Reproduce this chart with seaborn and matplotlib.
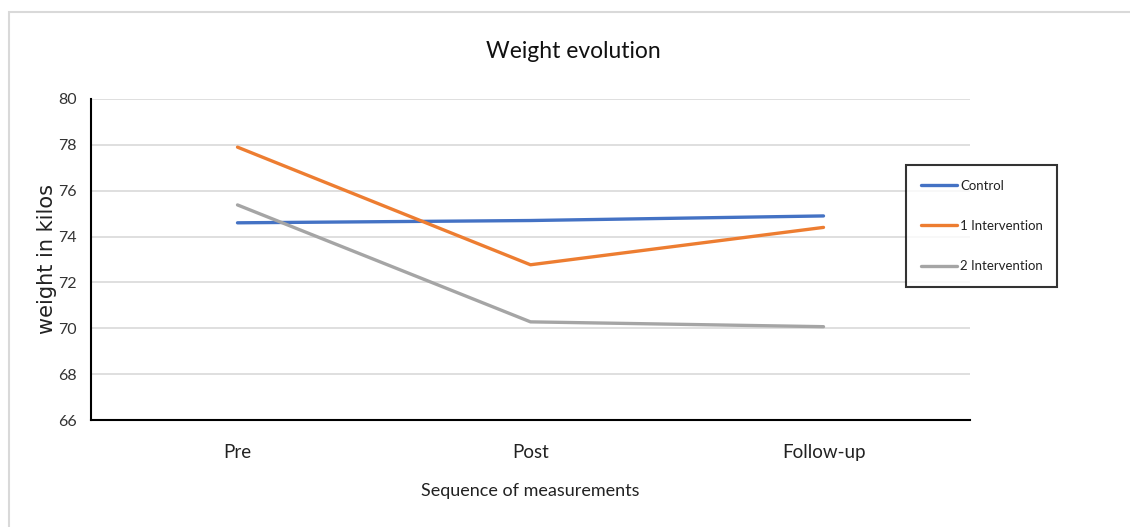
import matplotlib
matplotlib.use("Agg")
import matplotlib.pyplot as plt
import seaborn as sns
import pandas as pd
from matplotlib.patches import Rectangle

categories = ["Pre", "Post", "Follow-up"]
control = [74.6, 74.7, 74.9]
intervention1 = [77.9, 72.77, 74.4]
intervention2 = [75.38, 70.28, 70.07]
series_names = ["Control", "1 Intervention", "2 Intervention"]
y_ticks = [66, 68, 70, 72, 74, 76, 78, 80]

rows = []
for name, vals in zip(series_names, [control, intervention1, intervention2]):
    for c, v in zip(categories, vals):
        rows.append({"x": c, "y": v, "series": name})
df = pd.DataFrame(rows)

sns.set_theme(style="white")
plt.rcParams['font.family'] = ['Lato', 'DejaVu Sans']

fig = plt.figure(figsize=(11.3, 5.27), dpi=100)
ax = fig.add_axes([91/1130, 1-420/527, (970-91)/1130, (420-99)/527])

palette = {"Control": "#4472C4", "1 Intervention": "#ED7D31", "2 Intervention": "#A5A5A5"}
sns.lineplot(data=df, x="x", y="y", hue="series", palette=palette, sort=False,
             linewidth=2.4, ax=ax, legend=True)

ax.set_xlim(-0.5, 2.5)
ax.set_ylim(66, 80)
ax.set_yticks(y_ticks)
ax.set_yticklabels([str(t) for t in y_ticks], fontsize=11.5, color="#333333")
ax.set_xticks(range(len(categories)))
ax.set_xticklabels(categories, fontsize=13.5, color="#222222")
ax.tick_params(axis='x', pad=17, length=0)
ax.tick_params(axis='y', pad=10, length=0)
ax.grid(axis='y', color="#d9d9d9", linewidth=1.2)
ax.set_axisbelow(True)
for s in ["top", "right"]:
    ax.spines[s].set_visible(False)
for s in ["left", "bottom"]:
    ax.spines[s].set_color("black")
    ax.spines[s].set_linewidth(1.5)

ax.set_xlabel("Sequence of measurements", fontsize=13, color="#222222", labelpad=16)
ax.set_ylabel("weight in kilos", fontsize=15, color="#222222", labelpad=1,
              family=['DejaVu Sans'])

fig.text(573/1130, 1-51/527, "Weight evolution", ha="center", va="center",
         fontsize=16.5, color="#111111")

handles, labels = ax.get_legend_handles_labels()
leg = ax.legend(handles, labels, loc="upper left", bbox_to_anchor=(906/1130, 1-165/527),
                bbox_transform=fig.transFigure, frameon=True, fancybox=False,
                fontsize=9.5, labelspacing=2.15, handlelength=2.8, handletextpad=0.2,
                borderpad=1.1, borderaxespad=0)
leg.get_frame().set_edgecolor("black")
leg.get_frame().set_linewidth(1.5)
for t in leg.get_texts():
    t.set_color("#222222")

fig.patches.append(Rectangle((9/1130, -0.1), 1.2, 1-12/527+0.1, transform=fig.transFigure,
                             fill=False, edgecolor="#d9d9d9", linewidth=1.5, zorder=-1))

fig.savefig("out.png", dpi=100)
